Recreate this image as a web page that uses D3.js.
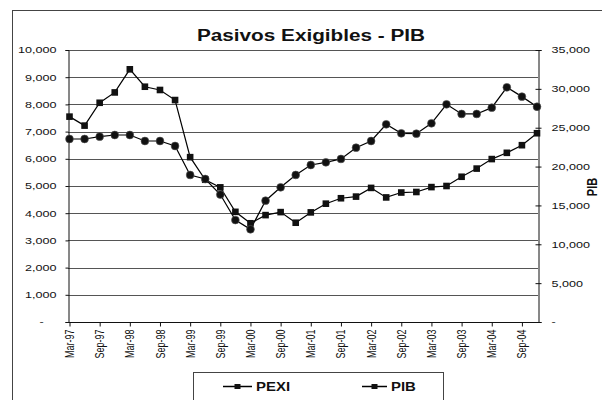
<!DOCTYPE html>
<html>
<head>
<meta charset="utf-8">
<script src="https://cdn.jsdelivr.net/npm/d3@7"></script>
<style>
  body { margin: 0; background: #fff; }
  svg { display: block; font-family: "Liberation Sans", Arial, sans-serif; }
</style>
</head>
<body>
<div id="chart"></div>
<script>
"use strict";

// quarters (category labels)
var quarters = ["Mar-97","Jun-97","Sep-97","Dec-97","Mar-98","Jun-98","Sep-98","Dec-98",
  "Mar-99","Jun-99","Sep-99","Dec-99","Mar-00","Jun-00","Sep-00","Dec-00",
  "Mar-01","Jun-01","Sep-01","Dec-01","Mar-02","Jun-02","Sep-02","Dec-02",
  "Mar-03","Jun-03","Sep-03","Dec-03","Mar-04","Jun-04","Sep-04","Dec-04"];

// PEXI (left axis)
var pexi = [7550, 7220, 8060, 8440, 9290, 8650, 8530, 8160,
  6060, 5230, 4950, 4050, 3630, 3930, 4040, 3650,
  4030, 4350, 4550, 4610, 4930, 4580, 4760, 4780,
  4960, 5000, 5340, 5640, 5990, 6220, 6500, 6940];

// PIB (right axis)
var pib = [23550, 23550, 23850, 24060, 24060, 23290, 23290, 22650,
  18920, 18400, 16400, 13120, 11930, 15610, 17330, 18920,
  20200, 20550, 20980, 22430, 23290, 25440, 24280, 24230,
  25570, 28010, 26770, 26770, 27580, 30200, 29000, 27700];

var leftTicks = [0,1000,2000,3000,4000,5000,6000,7000,8000,9000,10000];
var rightTicks = [0,5000,10000,15000,20000,25000,30000,35000];

var W = 602, H = 400;
var SX = 1.4; // the picture is stretched sideways
var plot = {left: 68, right: 538, top: 50, bottom: 322};

var svg = d3.select("#chart").append("svg")
  .attr("width", W).attr("height", H);

// chart frame
svg.append("rect")
  .attr("x", 12.5).attr("y", 10.5)
  .attr("width", 620).attr("height", 420)
  .attr("fill", "none").attr("stroke", "#444").attr("stroke-width", 1);

var x = d3.scalePoint().domain(quarters).range([plot.left + 1.5, plot.right - 1]);
var yL = d3.scaleLinear().domain([0, 10000]).range([plot.bottom, plot.top]);
var yR = d3.scaleLinear().domain([0, 35000]).range([plot.bottom, plot.top]);

var fmt = function(v) { return v === 0 ? "-" : d3.format(",")(v); };

// gridlines
svg.append("g").selectAll("line")
  .data(leftTicks.filter(function(d) { return d > 0; }))
  .enter().append("line")
  .attr("x1", plot.left).attr("x2", plot.right)
  .attr("y1", function(d) { return Math.round(yL(d)) + 0.5; })
  .attr("y2", function(d) { return Math.round(yL(d)) + 0.5; })
  .attr("stroke", "#555").attr("stroke-width", 1);

// left axis
var gL = svg.append("g")
  .attr("transform", "translate(" + (plot.left + 0.5) + ",0)")
  .call(d3.axisLeft(yL).tickValues(leftTicks).tickFormat(fmt).tickSize(3).tickPadding(9));
gL.selectAll("text").each(function(d) {
  var t = d3.select(this);
  var tx = +t.attr("x");
  if (d === 0) tx = -27;
  t.attr("x", 0).attr("text-anchor", d === 0 ? "middle" : "end")
    .attr("transform", "translate(" + tx + ",0) scale(" + SX + ",1)");
});

// right axis
var gR = svg.append("g")
  .attr("transform", "translate(" + (plot.right + 0.5) + ",0)")
  .call(d3.axisRight(yR).tickValues(rightTicks).tickFormat(fmt).tickSize(3).tickPadding(10));
gR.selectAll(".tick line").attr("x1", -3);
gR.selectAll("text").each(function(d) {
  var t = d3.select(this);
  var tx = +t.attr("x");
  t.attr("x", 0).attr("transform", "translate(" + tx + ",0) scale(" + SX + ",1)");
});

// bottom axis
var gB = svg.append("g")
  .attr("transform", "translate(0," + (plot.bottom + 0.5) + ")")
  .call(d3.axisBottom(x).tickValues(quarters.filter(function(d, i) { return i % 2 === 0; }))
    .tickSize(4).tickSizeOuter(0));
gB.select(".domain").attr("d", "M" + plot.left + ",0H" + plot.right);
gB.selectAll("text")
  .attr("x", 0).attr("y", 0).attr("dy", "0.32em")
  .attr("text-anchor", "end")
  .attr("transform", "translate(0,7) scale(" + SX + ",1) rotate(-90)");

svg.selectAll(".tick text").attr("font-size", 9).attr("fill", "#111")
  .attr("font-family", "Liberation Sans, Arial, sans-serif");
svg.selectAll(".domain, .tick line").attr("stroke", "#111");

// lines
var lineL = d3.line().x(function(d, i) { return x(quarters[i]); }).y(function(d) { return yL(d); });
var lineR = d3.line().x(function(d, i) { return x(quarters[i]); }).y(function(d) { return yR(d); });

svg.append("path").datum(pexi).attr("d", lineL)
  .attr("fill", "none").attr("stroke", "#000").attr("stroke-width", 1.2);
svg.append("path").datum(pib).attr("d", lineR)
  .attr("fill", "none").attr("stroke", "#000").attr("stroke-width", 1.2);

svg.append("g").selectAll("rect").data(pexi).enter().append("rect")
  .attr("x", function(d, i) { return x(quarters[i]) - 3.3; })
  .attr("y", function(d) { return yL(d) - 3.3; })
  .attr("width", 6.6).attr("height", 6.6)
  .attr("fill", "#111");

svg.append("g").selectAll("circle").data(pib).enter().append("circle")
  .attr("cx", function(d, i) { return x(quarters[i]); })
  .attr("cy", function(d) { return yR(d); })
  .attr("r", 3.9)
  .attr("fill", "#111").attr("stroke", "#555").attr("stroke-width", 0.6);

// title
svg.append("text")
  .attr("transform", "translate(311,41) scale(1.22,1)")
  .attr("text-anchor", "middle")
  .attr("font-size", 17).attr("font-weight", "bold").attr("fill", "#111")
  .text("Pasivos Exigibles - PIB");

// right axis title
svg.append("text")
  .attr("transform", "translate(597,187) scale(" + SX + ",1) rotate(-90)")
  .attr("text-anchor", "middle")
  .attr("font-size", 11).attr("font-weight", "bold").attr("fill", "#111")
  .text("PIB");

// legend
var legend = svg.append("g");
legend.append("rect")
  .attr("x", 193.5).attr("y", 372.5).attr("width", 250).attr("height", 60)
  .attr("fill", "#fff").attr("stroke", "#444");
var legItems = [
  {name: "PEXI", x0: 223, x1: 252},
  {name: "PIB", x0: 362, x1: 387}
];
var li = legend.selectAll(".leg").data(legItems).enter().append("g");
li.append("line")
  .attr("x1", function(d) { return d.x0; }).attr("x2", function(d) { return d.x1; })
  .attr("y1", 386.5).attr("y2", 386.5)
  .attr("stroke", "#000").attr("stroke-width", 1.5);
li.append("rect")
  .attr("x", function(d) { return (d.x0 + d.x1) / 2 - 3; })
  .attr("y", 384).attr("width", 6).attr("height", 5).attr("fill", "#111");
li.append("text")
  .attr("transform", function(d) { return "translate(" + (d.x1 + 4) + ",391) scale(1.15,1)"; })
  .attr("font-size", 13).attr("font-weight", "bold").attr("fill", "#111")
  .text(function(d) { return d.name; });
</script>
</body>
</html>
